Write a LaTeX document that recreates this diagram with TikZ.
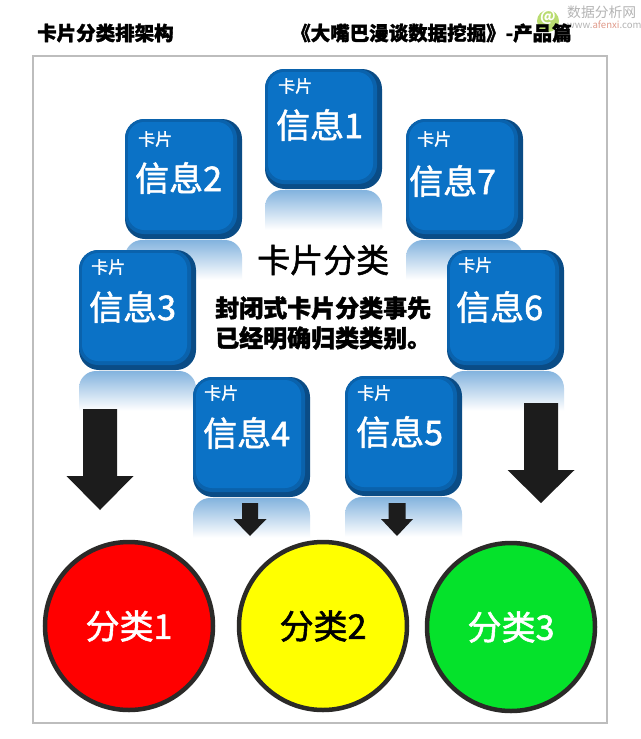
\documentclass[tikz,border=0pt]{standalone}
\usepackage{fontspec}
\setmainfont{Noto Sans CJK SC}
\newfontfamily\heavyface[FakeBold=1.6]{Noto Sans CJK SC}
\usetikzlibrary{shapes.geometric}
\definecolor{cardfront}{HTML}{0B72C6}
\definecolor{cardmid}{HTML}{0A62AC}
\definecolor{cardedge}{HTML}{0A4C86}
\definecolor{reflect}{HTML}{83B3DE}
\definecolor{arrowblack}{HTML}{1C1C1C}
\definecolor{ringdark}{HTML}{2B2A28}
\definecolor{framegray}{HTML}{BDBDBD}
\definecolor{wmgray}{HTML}{B4B4B4}
\definecolor{wmgreen}{HTML}{B9DC70}
\definecolor{wmred}{HTML}{E09A8A}
\definecolor{classgreen}{HTML}{05E22B}
\definecolor{classyellow}{HTML}{FFFF00}
\pgfdeclareverticalshading{reflectfade}{100bp}{color(0bp)=(white); color(32bp)=(white); color(75bp)=(reflect); color(100bp)=(reflect)}
\tikzset{
  x=1pt,y=-1pt,
  cardbody/.style={fill=cardedge,rounded corners=20pt,draw=none},
  cardrim/.style={fill=cardmid,rounded corners=19pt,draw=none},
  cardface/.style={fill=cardfront,rounded corners=16pt,draw=none},
  smalllabel/.style={anchor=west,inner sep=0pt,text=white,font=\heavyface\fontsize{17}{17}\selectfont},
  biglabel/.style={anchor=west,inner sep=0pt,text=white,font=\heavyface\fontsize{34}{34}\selectfont},
  classnode/.style={ellipse,draw=ringdark,line width=4.5pt,minimum width=168pt,minimum height=168pt,inner sep=0pt,font=\heavyface\fontsize{34}{34}\selectfont},
  downarrow/.style={fill=arrowblack,draw=none},
  titletext/.style={anchor=base west,inner sep=0pt,text height=8pt,text depth=2pt,font=\bfseries\heavyface\fontsize{19.5}{19.5}\selectfont},
  bodytext/.style={anchor=west,inner sep=0pt,font=\bfseries\heavyface\fontsize{24}{24}\selectfont},
}
% number, left, top, small x, small y, big x, big y
\newcommand{\infocard}[7]{%
  \shade[shading=reflectfade]
    (#2,#3+167) {[rounded corners=17pt] -- (#2,#3+121) -- (#2+117,#3+121)} -- (#2+117,#3+167) -- cycle;
  \fill[cardbody] (#2,#3) rectangle (#2+117,#3+120);
  \fill[cardrim] (#2,#3) rectangle (#2+112,#3+115);
  \fill[cardface] (#2+3,#3+3) rectangle (#2+108,#3+111);
  \node[smalllabel] (small#1) at (#4,#5) {卡片};
  \node[biglabel] (big#1) at (#6,#7) {信息#1};
}
% centre x, shaft half width, head half width, top, shoulder, tip
\newcommand{\dropdown}[6]{%
  \fill[downarrow] (#1-#2,#4) -- (#1+#2,#4) -- (#1+#2,#5) -- (#1+#3,#5) -- (#1,#6) -- (#1-#3,#5) -- (#1-#2,#5) -- cycle;
}
\begin{document}
\begin{tikzpicture}
\useasboundingbox (0,0) rectangle (640,739);
\fill[white] (0,0) rectangle (640,739);
% watermark
\fill[wmgreen] (548,21) circle (11);
\node[inner sep=0pt,text=white,text height=7pt,text depth=0pt,font=\bfseries\fontsize{15}{15}\selectfont] (wmat) at (548,18) {@};
\node[anchor=west,inner sep=0pt,text=wmgray,font=\fontsize{13.8}{14}\selectfont] (wmname) at (567,12) {数据分析网};
\node[anchor=west,inner sep=0pt,text=wmgray,text height=6pt,text depth=0pt,font=\fontsize{9.6}{10}\selectfont] (wmurl) at (567,25) {www.\textcolor{wmred}{afenxi}.com};
% titles
\node[titletext] (t1) at (37,40.4) {卡片分类排架构};
\node[titletext] (t2) at (291,40.4) {《大嘴巴漫谈数据挖掘》-产品篇};
% frame
\draw[framegray,line width=2.2pt] (33,56) rectangle (607,723);
% cards
\infocard{1}{265}{69}{278}{86}{276}{125}
\infocard{2}{125}{119}{138}{139}{135}{178}
\infocard{7}{406}{119}{417}{139}{409}{181}
\infocard{3}{79}{250}{91}{267}{89}{307}
\infocard{6}{447}{250}{458}{265}{456}{307}
\infocard{4}{193}{377}{204}{393}{203}{433}
\infocard{5}{345}{376}{357}{393}{356}{432}
% centre text
\node[anchor=west,inner sep=0pt,font=\heavyface\fontsize{33}{33}\selectfont] (heading) at (257,260) {卡片分类};
\node[bodytext] (body1) at (215,308) {封闭式卡片分类事先};
\node[bodytext] (body2) at (215,338) {已经明确归类类别。};
% arrows
\dropdown{100}{17}{33.5}{409}{476}{510}
\dropdown{541}{17}{33.5}{403}{470}{503}
\dropdown{250}{8}{16.5}{503}{519}{536}
\dropdown{397}{8.5}{16}{503}{519}{536}
% classes
\node[classnode,fill=red,text=white] (class1) at (129,626) {分类1};
\node[classnode,fill=classyellow,text=black] (class2) at (323,626) {分类2};
\node[classnode,fill=classgreen,text=white] (class3) at (511,627) {分类3};
\end{tikzpicture}
\end{document}
